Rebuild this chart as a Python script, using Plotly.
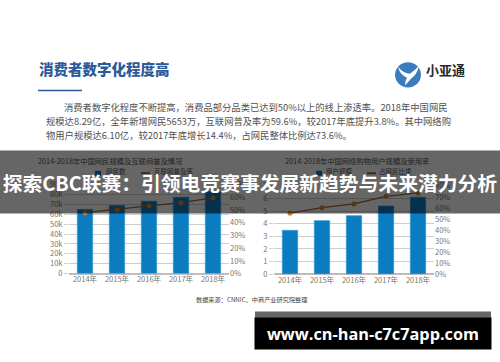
import re
import plotly.graph_objects as go

W, H = 500, 362

# ---------------- data ----------------
years = ["2014年", "2015年", "2016年", "2017年", "2018年"]
netizens = [64875, 68826, 73125, 77198, 82851]          # 网民数 (万人)
penetration = [0.479, 0.503, 0.532, 0.558, 0.596]      # 互联网普及率
shoppers = [3.47, 4.24, 4.63, 5.40, 6.10]              # 网络购物用户规模 (亿)
shopper_share = [0.552, 0.602, 0.636, 0.705, 0.736]    # 占网民比重

left_ticks = list(range(0, 90001, 10000))
right_ticks_a = [i / 10 for i in range(0, 8)]
shop_ticks = list(range(0, 8))
right_ticks_b = [i / 10 for i in range(0, 9)]

heading = "消费者数字化程度高"
para = [
    "消费者数字化程度不断提高，消费品部分品类已达到50%以上的线上渗透率。2018年中国网民",
    "规模达8.29亿，全年新增网民5653万，互联网普及率为59.6%，较2017年底提升3.8%。其中网络购",
    "物用户规模达6.10亿，较2017年底增长14.4%，占网民整体比例达73.6%。",
]
title_a = "2014-2018年中国网民规模及互联网普及情况"
title_b = "2014-2018年中国网络购物用户规模及使用率"
leg_a = ["网民数", "互联网普及率"]
leg_b = ["用户规模", "占网民比重"]
source = "数据来源：CNNIC、中商产业研究院整理"
banner = "探索CBC联赛：引领电竞赛事发展新趋势与未来潜力分析"
brand = "小亚通"
watermark = "www.cn-han-c7c7app.com"

# ---------------- helpers ----------------
def fx(px):
    return px / W

def fy(py):
    return 1 - py / H

def pxpath(s):
    def rep(m):
        x, y = float(m.group(1)), float(m.group(2))
        return f"{fx(x):.5f},{fy(y):.5f}"
    return re.sub(r"(-?[\d.]+),(-?[\d.]+)", rep, s)

FONT = "Noto Sans CJK SC"
BAR = "#0b7bc2"
LINE = "#a5632d"
MARK = "#d4862f"
AXTXT = "#777777"
GRID = "#cfcfcf"

fig = go.Figure()

fig.add_trace(go.Bar(x=years, y=netizens, name=leg_a[0], marker=dict(color=BAR, line=dict(color="#3a9ad6", width=0.8)),
                     xaxis="x", yaxis="y"))
fig.add_trace(go.Scatter(x=years, y=penetration, name=leg_a[1], mode="lines+markers",
                         line=dict(color=LINE, width=1.3), marker=dict(color=MARK, size=5),
                         xaxis="x", yaxis="y2"))
fig.add_trace(go.Bar(x=years, y=shoppers, name=leg_b[0], marker=dict(color=BAR, line=dict(color="#3a9ad6", width=0.8)),
                     xaxis="x2", yaxis="y3"))
fig.add_trace(go.Scatter(x=years, y=shopper_share, name=leg_b[1], mode="lines+markers",
                         line=dict(color=LINE, width=1.3), marker=dict(color=MARK, size=5),
                         xaxis="x2", yaxis="y4"))

tickfont = dict(size=7.5, color=AXTXT, family=FONT)

dom_a = [fy(276), fy(184.2)]
dom_b = [fy(276.5), fy(185.5)]

fig.update_layout(
    width=W, height=H, autosize=False,
    margin=dict(l=0, r=0, t=0, b=0),
    paper_bgcolor="white", plot_bgcolor="rgba(0,0,0,0)",
    showlegend=False, bargap=0.52,
    font=dict(family=FONT, color="#555555"),
    xaxis=dict(domain=[fx(69), fx(229)], anchor="y", type="category", tickfont=tickfont,
               showline=False, ticks="", fixedrange=True),
    yaxis=dict(domain=dom_a, anchor="x", range=[0, 90000], tickvals=left_ticks,
               tickfont=tickfont, showgrid=True, gridcolor=GRID, gridwidth=1,
               zeroline=True, zerolinecolor="#bdbdbd", ticks="outside", ticklen=4,
               tickcolor=GRID, showline=False, fixedrange=True),
    yaxis2=dict(domain=dom_a, anchor="x", overlaying="y", side="right", range=[0, 0.7],
                tickvals=right_ticks_a, tickformat=".0%", tickfont=tickfont,
                showgrid=False, zeroline=False, showline=False, fixedrange=True),
    xaxis2=dict(domain=[fx(274), fx(434)], anchor="y3", type="category", tickfont=tickfont,
                showline=False, ticks="", fixedrange=True),
    yaxis3=dict(domain=dom_b, anchor="x2", range=[0, 7], tickvals=shop_ticks,
                tickfont=tickfont, showgrid=True, gridcolor=GRID, gridwidth=1,
                zeroline=True, zerolinecolor="#bdbdbd", ticks="outside", ticklen=4,
                tickcolor=GRID, showline=False, fixedrange=True),
    yaxis4=dict(domain=dom_b, anchor="x2", overlaying="y3", side="right", range=[0, 0.8],
                tickvals=right_ticks_b, tickformat=".0%", tickfont=tickfont,
                showgrid=False, zeroline=False, showline=False, fixedrange=True),
)

shapes = []
annotations = []

def text(t, x, y, size, color="#555555", xanchor="left", family=FONT, weight=None):
    f = dict(size=size, color=color, family=family)
    if weight:
        f["weight"] = weight
    y = y - 0.42 * size  # compensate CJK line-box centring
    annotations.append(dict(text=t, x=fx(x), y=fy(y),
                            xref="paper", yref="paper", xanchor=xanchor, yanchor="middle",
                            showarrow=False, font=f))

# heading + underline
text(heading, 37, 71, 14.5, color="#2c5a9a", weight=900)
shapes.append(dict(type="rect", xref="paper", yref="paper", x0=fx(38), x1=fx(82),
                   y0=fy(88), y1=fy(86.3), fillcolor="#2c5a9a", line=dict(width=0)))

# logo
shapes.append(dict(type="circle", xref="paper", yref="paper", x0=fx(395), x1=fx(421),
                   y0=fy(84), y1=fy(58), fillcolor="#3b7bbf", line=dict(width=0)))
shapes.append(dict(type="path", xref="paper", yref="paper",
                   path=pxpath("M 398,63 Q 404,70 410,70 Q 415,66 419,62 Q 417,71 411,75 "
                               "L 405,82 Q 405,77 407,74 Q 400,71 398,63 Z"),
                   fillcolor="white", line=dict(width=0)))
text(brand, 424, 71, 13, color="#2a2a2a", weight=700)

# paragraph
text(para[0], 62, 108.5, 9.3, color="#505050")
text(para[1], 44, 123, 9.3, color="#505050")
text(para[2], 44, 137, 9.3, color="#505050")

# chart titles
text(title_a, 110, 163, 7.3, color="#555555", xanchor="center")
text(title_b, 357, 163, 7.3, color="#555555", xanchor="center")

# legends
shapes.append(dict(type="rect", xref="paper", yref="paper", x0=fx(95), x1=fx(101),
                   y0=fy(175), y1=fy(170), fillcolor=BAR, line=dict(width=0)))
text(leg_a[0], 104, 172.5, 6.5)
shapes.append(dict(type="line", xref="paper", yref="paper", x0=fx(141), x1=fx(150),
                   y0=fy(172.5), y1=fy(172.5), line=dict(color=LINE, width=2)))
text(leg_a[1], 152, 172.5, 6.5)
shapes.append(dict(type="rect", xref="paper", yref="paper", x0=fx(316), x1=fx(322),
                   y0=fy(175), y1=fy(170), fillcolor=BAR, line=dict(width=0)))
text(leg_b[0], 324, 172.5, 6.5)
shapes.append(dict(type="line", xref="paper", yref="paper", x0=fx(367), x1=fx(376),
                   y0=fy(172.5), y1=fy(172.5), line=dict(color=LINE, width=2)))
text(leg_b[1], 377, 172.5, 6.5)

# source
text(source, 251, 305.5, 6.2, color="#444444", xanchor="center")

# banner overlay (drawn last among annotations so it covers what lies under it)
annotations.append(dict(text=banner, x=0.5, y=fy(181), xref="paper", yref="paper",
                        xanchor="center", yanchor="middle", showarrow=False,
                        width=506, height=62, borderpad=0, bgcolor="rgba(0,0,0,0.6)",
                        font=dict(size=19.8, color="white", family=FONT, weight=700)))

# watermark box
shapes.append(dict(type="rect", xref="paper", yref="paper", x0=fx(255), x1=fx(491),
                   y0=fy(322), y1=fy(315), fillcolor="#666666", line=dict(width=0)))
annotations.append(dict(text=watermark, x=fx(373), y=fy(337.5), xref="paper", yref="paper",
                        xanchor="center", yanchor="middle", showarrow=False,
                        width=236, height=31, borderpad=0, bgcolor="black",
                        font=dict(size=16.3, color="white", family="Open Sans", weight=700)))

fig.update_layout(shapes=shapes, annotations=annotations)
fig.write_html("out.html", config={"displayModeBar": False},
               post_script="document.body.style.margin='0';document.body.style.overflow='hidden';")
